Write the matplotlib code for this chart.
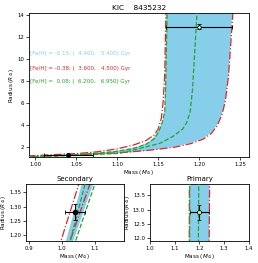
import matplotlib
matplotlib.use("Agg")
import matplotlib.pyplot as plt
import numpy as np

# ---- data ----
# [Fe/H] = -0.15, ages 4.4 and 5.4 Gyr (filled band)
blue_young_m = [0.99, 1.036, 1.097, 1.12, 1.145, 1.17, 1.19, 1.205, 1.215, 1.222, 1.228, 1.232, 1.236, 1.2407]
blue_young_r = [1.07, 1.185, 1.385, 1.50, 1.72, 2.0, 2.35, 2.75, 3.3, 4.0, 5.0, 6.2, 8.5, 14.3]
blue_old_m = [0.99, 1.013, 1.062, 1.09, 1.11, 1.125, 1.138, 1.146, 1.152, 1.156, 1.158, 1.1585, 1.16]
blue_old_r = [1.12, 1.185, 1.385, 1.55, 1.75, 2.0, 2.4, 2.95, 3.7, 4.5, 5.5, 7.5, 14.3]
# [Fe/H] = -0.38, ages 3.6 and 4.5 Gyr
red_young_m = [0.99, 1.026, 1.087, 1.11, 1.14, 1.17, 1.19, 1.205, 1.215, 1.222, 1.228, 1.232, 1.236, 1.2415]
red_young_r = [1.09, 1.185, 1.385, 1.49, 1.68, 1.95, 2.28, 2.68, 3.2, 3.9, 4.9, 6.1, 8.4, 14.3]
red_old_m = [0.99, 0.998, 1.053, 1.075, 1.10, 1.12, 1.135, 1.145, 1.15, 1.154, 1.156, 1.158, 1.1595]
red_old_r = [1.15, 1.185, 1.385, 1.53, 1.80, 2.15, 2.55, 3.05, 3.6, 4.6, 6.0, 8.5, 14.3]
# [Fe/H] = 0.08, ages 6.2 and 6.95 Gyr
green_young_m = [0.99, 1.043, 1.102, 1.128, 1.152, 1.168, 1.18, 1.185, 1.189, 1.192, 1.1976]
green_young_r = [1.07, 1.185, 1.385, 1.85, 2.3, 2.93, 3.6, 4.2, 5.1, 7.2, 14.3]
green_old_m = [0.99, 1.026, 1.072, 1.10, 1.12, 1.135, 1.145, 1.151, 1.155, 1.158, 1.159, 1.161]
green_old_r = [1.10, 1.185, 1.385, 1.58, 1.85, 2.2, 2.7, 3.4, 4.2, 5.2, 7.0, 14.3]

feh = [-0.15, -0.38, 0.08]
age_lo = [4.4, 3.6, 6.2]
age_hi = [5.4, 4.5, 6.95]

# stars: primary, secondary
star_mass = [1.20, 1.04]
star_mass_err = [0.04, 0.03]
star_rad = [12.9, 1.28]
star_rad_err = [0.25, 0.028]

title = "KIC    8435232"

BLUE = "skyblue"
RED = "#d62728"
GREEN = "#2ca02c"

fig = plt.figure(figsize=(2.58, 2.63), dpi=100)
ax = fig.add_axes([0.112, 0.403, 0.853, 0.548])
axs = fig.add_axes([0.101, 0.0837, 0.380, 0.217])
axp = fig.add_axes([0.581, 0.0837, 0.384, 0.217])

def draw(a):
    a.fill(np.concatenate([blue_old_m, blue_young_m[::-1]]),
           np.concatenate([blue_old_r, blue_young_r[::-1]]),
           color=BLUE, lw=0, zorder=1)
    a.plot(red_young_m, red_young_r, color=RED, ls="-.", lw=0.9, zorder=2)
    a.plot(red_old_m, red_old_r, color=RED, ls="-.", lw=0.9, zorder=2)
    a.plot(green_young_m, green_young_r, color=GREEN, ls="--", lw=0.9, zorder=3)
    a.plot(green_old_m, green_old_r, color=GREEN, ls="--", lw=0.9, zorder=3)

for a in (ax, axs, axp):
    draw(a)
    for s in a.spines.values():
        s.set_linewidth(0.6)
    a.tick_params(labelsize=3.9, length=2, width=0.5, pad=1.5)
    a.set_xlabel(r"Mass ($M_\odot$)", fontsize=4.1, labelpad=1)
    a.set_ylabel(r"Radius ($R_\odot$)", fontsize=4.1, labelpad=0.8)

ebkw = dict(ecolor="black", elinewidth=0.8, capsize=1.3, capthick=0.6, zorder=5)
# main
ax.errorbar(star_mass[0], star_rad[0], xerr=star_mass_err[0], yerr=star_rad_err[0],
            fmt="o", ms=2.5, mfc="white", mec="black", mew=0.6, **ebkw)
ax.errorbar(star_mass[1], star_rad[1], xerr=star_mass_err[1], yerr=star_rad_err[1],
            fmt="o", ms=2.5, mfc="black", mec="black", **ebkw)
ax.set_xlim(0.992, 1.261)
ax.set_ylim(1.06, 14.15)
ax.set_xticks([1.00, 1.05, 1.10, 1.15, 1.20, 1.25])
ax.set_yticks([2, 4, 6, 8, 10, 12, 14])
ax.set_title(title, fontsize=5.3, pad=2)

colors = [BLUE, RED, GREEN]
ty = [10.5, 9.07, 7.9]
for f, lo, hi, c, y in zip(feh, age_lo, age_hi, colors, ty):
    ax.text(0.9935, y, "[Fe/H] = %5.2f; (%7.3f, %7.3f) Gyr" % (f, lo, hi),
            color=c, fontsize=4.0, va="center", ha="left")

# secondary
axs.errorbar(star_mass[1], star_rad[1], xerr=star_mass_err[1], yerr=star_rad_err[1],
             fmt="o", ms=3, mfc="black", mec="black", **ebkw)
axs.set_xlim(star_mass[1] - 0.15, star_mass[1] + 0.15)
axs.set_ylim(star_rad[1] - 0.1, star_rad[1] + 0.1)
axs.set_xticks([0.9, 1.0, 1.1])
axs.set_yticks([1.20, 1.25, 1.30, 1.35])
axs.set_title("Secondary", fontsize=5.0, pad=2)

# primary
axp.errorbar(star_mass[0], star_rad[0], xerr=star_mass_err[0], yerr=star_rad_err[0],
             fmt="o", ms=3, mfc="#c8e6a0", mec="black", mew=0.5, **ebkw)
axp.set_xlim(star_mass[0] - 0.2, star_mass[0] + 0.2)
axp.set_ylim(star_rad[0] - 1.0, star_rad[0] + 1.0)
axp.set_xticks([1.0, 1.1, 1.2, 1.3, 1.4])
axp.set_yticks([12.0, 12.5, 13.0, 13.5])
axp.set_title("Primary", fontsize=5.0, pad=2)

fig.savefig("out.png", dpi=100)
